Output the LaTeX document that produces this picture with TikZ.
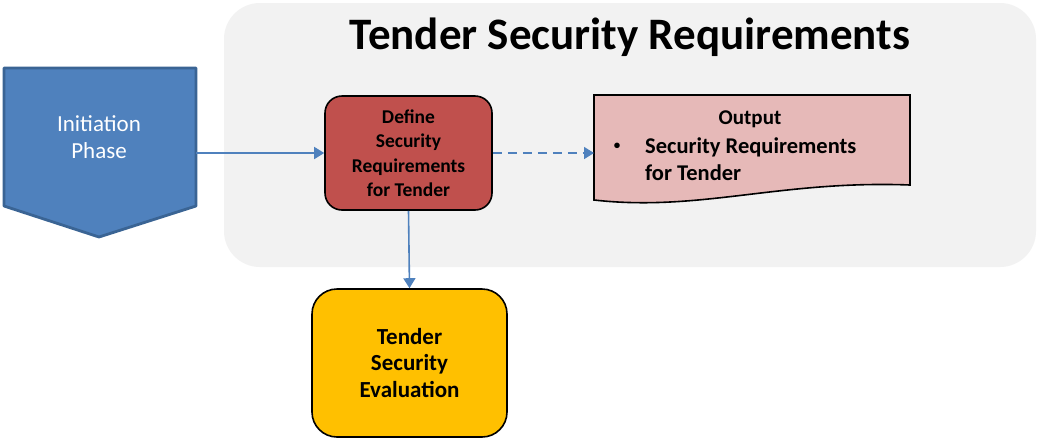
\documentclass[tikz,border=0pt]{standalone}
\usepackage{fontspec}
\setmainfont{Carlito}
\usetikzlibrary{arrows.meta}
\definecolor{bgray}{HTML}{F2F2F2}
\definecolor{pblue}{HTML}{4F81BD}
\definecolor{pblueline}{HTML}{3A6494}
\definecolor{dred}{HTML}{C0504D}
\definecolor{opink}{HTML}{E6B9B8}
\definecolor{tyellow}{HTML}{FFC000}
\tikzset{
  txt/.style={align=center, inner sep=0pt},
  flow/.style={draw=pblue, line width=1.6pt, -{Triangle[length=10pt,width=12pt]}},
}
\begin{document}
\begin{tikzpicture}[x=1pt,y=-1pt]
\useasboundingbox (0,0) rectangle (1038,440);
\fill[white] (0,0) rectangle (1038,440);
% background panel
\fill[bgray, rounded corners=36pt] (224,3) rectangle (1036,267);
\node[txt, font=\bfseries\fontsize{45}{50}\selectfont] (title) at (630,37) {Tender Security Requirements};
% initiation pentagon
\draw[pblueline, fill=pblue, line width=2.8pt, line join=round]
  (4,68) -- (196,68) -- (196,206) -- (99,237) -- (4,206) -- cycle;
\coordinate (initR) at (196,153);
\node[txt, text=white, font=\fontsize{23}{27}\selectfont] (init) at (99,137) {Initiation\\Phase};
% define box
\node[draw=black, fill=dred, line width=1.6pt, rounded corners=17pt, minimum width=167pt, minimum height=114pt, inner sep=0pt,
  txt, font=\bfseries\fontsize{19.5}{24.5}\selectfont] (def) at (408.5,153) {Define\\Security\\Requirements\\for Tender};
% output document
\draw[black, fill=opink, line width=1.6pt]
  (594,95) -- (910,95) -- (910,185) .. controls (780,180) and (700,212) .. (594,200) -- cycle;
\coordinate (outL) at (594,153);
\node[txt, font=\bfseries\fontsize{21}{26.5}\selectfont] (outT) at (750,119) {Output};
\node[txt, font=\bfseries\fontsize{13}{26}\selectfont] (bul) at (617,146) {•};
\node[inner sep=0pt, anchor=west, align=left, font=\bfseries\fontsize{22.5}{26.5}\selectfont] (outB) at (645,159) {Security Requirements\\for Tender};
% evaluation box
\node[draw=black, fill=tyellow, line width=1.6pt, rounded corners=25pt, minimum width=195pt, minimum height=148pt, inner sep=0pt,
  txt, font=\bfseries\fontsize{23}{26.5}\selectfont] (eval) at (409.5,363) {Tender\\Security\\Evaluation};
% connectors
\draw[flow] (initR) -- (def.west);
\draw[flow, dash pattern=on 9pt off 6pt] (def.east) -- (outL);
\draw[flow] (def.south) -- (eval.north);
\end{tikzpicture}
\end{document}
